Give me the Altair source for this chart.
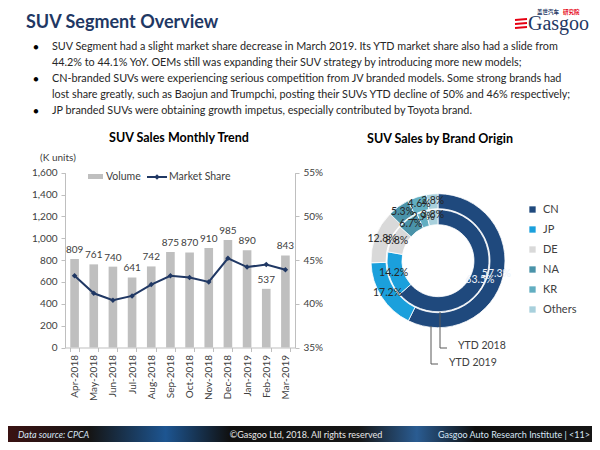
import altair as alt
import pandas as pd

FONT = "Lato"
W, H = 584, 434

# ---------------- data ----------------
months = ["Apr-2018", "May-2018", "Jun-2018", "Jul-2018", "Aug-2018", "Sep-2018",
          "Oct-2018", "Nov-2018", "Dec-2018", "Jan-2019", "Feb-2019", "Mar-2019"]
volume = [809, 761, 740, 641, 742, 875, 870, 910, 985, 890, 537, 843]
share = [43.2, 41.2, 40.4, 40.9, 42.2, 43.2, 43.0, 42.5, 45.2, 44.2, 44.5, 43.9]

brands = ["CN", "JP", "DE", "NA", "KR", "Others"]
ytd2019 = [57.3, 17.2, 12.8, 5.3, 4.6, 2.8]
ytd2018 = [63.5, 14.2, 8.8, 6.7, 2.9, 3.8]
brand_colors = ["#1f497d", "#1ba0dc", "#d9d9d9", "#4a93a9", "#62aec1", "#a8d0dc"]

vol_ticks = [0, 200, 400, 600, 800, 1000, 1200, 1400, 1600]
share_ticks = [35, 40, 45, 50, 55]

bullet_lines = [
    "SUV Segment had a slight market share decrease in March 2019. Its YTD market share also had a slide from",
    "44.2% to 44.1% YoY. OEMs still was expanding their SUV strategy by introducing more new models;",
    "CN-branded SUVs were experiencing serious competition from JV branded models. Some strong brands had",
    "lost share greatly, such as Baojun and Trumpchi, posting their SUVs YTD decline of 50% and 46% respectively;",
    "JP branded SUVs were obtaining growth impetus, especially contributed by Toyota brand.",
]

trend = pd.DataFrame({"month": months, "volume": volume, "share": share})
d19 = pd.DataFrame({"brand": brands, "idx": list(range(len(brands))), "pct": ytd2019,
                    "label": [f"{v:.1f}%" for v in ytd2019]})
d18 = pd.DataFrame({"brand": brands, "idx": list(range(len(brands))), "pct": ytd2018,
                    "label": [f"{v:.1f}%" for v in ytd2018]})

one = alt.Data(values=[{"a": 1}])


def txt(s, x, y, size=11, color="#262626", weight="normal", align="left",
        style="normal", font=FONT, baseline="middle"):
    return alt.Chart(one).mark_text(
        text=s, font=font, fontSize=size, color=color, fontWeight=weight,
        align=align, baseline=baseline, fontStyle=style
    ).encode(x=alt.value(x), y=alt.value(y))


def rule(x1, y1, x2, y2, color="#7f7f7f", width=1):
    return alt.Chart(one).mark_rule(color=color, strokeWidth=width).encode(
        x=alt.value(x1), y=alt.value(y1), x2=alt.value(x2), y2=alt.value(y2))


layers = []

# ---------------- header ----------------
layers.append(txt("SUV Segment Overview", 18, 20, size=18, color="#1f3864",
                  weight="bold", baseline="alphabetic"))
line_y = [39, 55, 71, 87, 103]
for s, y in zip(bullet_lines, line_y):
    layers.append(txt(s, 44, y, size=10.8, color="#262626"))
for y in [39, 71, 103]:
    layers.append(txt("●", 28, y, size=9, color="#000000", align="center"))

# logo
for y in [12, 16, 20]:
    layers.append(rule(507, y, 519, y - 1, color="#e60012", width=2))
layers.append(txt("Gasgoo", 520, 22, size=20, color="#1f3864",
                  font="Liberation Serif", baseline="alphabetic"))
layers.append(txt("盖世汽车", 529, 4, size=5.5, color="#1f3864",
                  font="Noto Sans CJK SC", weight="bold"))
layers.append(txt("研究院", 555, 4, size=5.5, color="#e60012",
                  font="Noto Sans CJK SC", weight="bold"))

# ---------------- bar + line chart ----------------
Y0, Y1 = 339.5, 164.7
X0, X1 = 57, 287

xenc = alt.X(
    "month:N",
    scale=alt.Scale(domain=months, range=[X0, X1], paddingInner=0.55, paddingOuter=0.275),
    axis=alt.Axis(orient="bottom", offset=-(H - Y0), labelAngle=-90, labelFont=FONT,
                  labelFontSize=10, labelColor="#404040", domainColor="#bfbfbf",
                  tickColor="#bfbfbf", tickBand="extent", tickSize=4, labelPadding=3,
                  title=None, grid=False),
)
vscale = alt.Scale(domain=[0, 1600], range=[Y0, Y1], nice=False)
sscale = alt.Scale(domain=[35, 55], range=[Y0, Y1], nice=False, zero=False)

bars = alt.Chart(trend).mark_bar(color="#bfbfbf").encode(
    x=xenc,
    y=alt.Y("volume:Q", scale=vscale,
            axis=alt.Axis(orient="left", offset=-X0, values=vol_ticks,
                          labelExpr="format(datum.value, ',.0f')",
                          labelFont=FONT, labelFontSize=10, labelColor="#404040",
                          domainColor="#bfbfbf", tickColor="#bfbfbf", tickSize=4,
                          labelPadding=4, grid=False, title=None)),
)
bar_labels = alt.Chart(trend).mark_text(
    baseline="bottom", dy=-4, font=FONT, fontSize=10, color="#404040"
).encode(x=xenc, y=alt.Y("volume:Q", scale=vscale, axis=None), text="volume:Q")

line = alt.Chart(trend).mark_line(color="#203864", strokeWidth=2).encode(
    x=xenc,
    y=alt.Y("share:Q", scale=sscale,
            axis=alt.Axis(orient="right", offset=-(W - X1), values=share_ticks,
                          labelExpr="datum.value + '%'", labelFont=FONT,
                          labelFontSize=10, labelColor="#404040",
                          domainColor="#bfbfbf", tickColor="#bfbfbf", tickSize=4,
                          labelPadding=4, grid=False, title=None)),
)
pts = alt.Chart(trend).mark_point(shape="diamond", filled=True, size=30,
                                  color="#203864", opacity=1).encode(
    x=xenc, y=alt.Y("share:Q", scale=sscale, axis=None))

layers += [bars, bar_labels, line, pts]

layers.append(txt("SUV Sales Monthly Trend", 171, 130, size=12.5, color="#000000",
                  weight="bold", align="center"))
layers.append(txt("(K units)", 50, 150, size=10, color="#404040", align="center"))

# manual legend
layers.append(alt.Chart(one).mark_rect(color="#bfbfbf").encode(
    x=alt.value(80), x2=alt.value(95), y=alt.value(166), y2=alt.value(171)))
layers.append(txt("Volume", 98, 169, size=10.5, color="#404040"))
layers.append(rule(139, 169, 159, 169, color="#203864", width=2))
layers.append(alt.Chart(one).mark_point(shape="diamond", filled=True, size=30,
                                        color="#203864", opacity=1).encode(
    x=alt.value(149), y=alt.value(169)))
layers.append(txt("Market Share", 161, 169, size=10.5, color="#404040"))

# ---------------- donut ----------------
CX, CY = 430, 252.7
cscale = alt.Scale(domain=brands, range=brand_colors)
leg = alt.Legend(orient="none", legendX=519, legendY=196, title=None,
                 symbolType="square", symbolSize=40, labelFont=FONT,
                 labelFontSize=11, labelColor="#404040", rowPadding=8,
                 symbolStrokeWidth=0, padding=0, labelOffset=5)
label_color = alt.condition("datum.brand == 'CN'", alt.value("#eef3fa"), alt.value("#262626"))

for df, r_out, r_in in [(d19, 67, 52), (d18, 51, 36)]:
    layers.append(alt.Chart(df).mark_arc(radius=r_out, radius2=r_in, stroke="white",
                                         strokeWidth=0.8).encode(
        theta=alt.Theta("pct:Q", stack="normalize"),
        order=alt.Order("idx:Q"),
        color=alt.Color("brand:N", scale=cscale, legend=leg),
        x=alt.value(CX), y=alt.value(CY)))
for df, r_lab in [(d19, 60), (d18, 46)]:
    layers.append(alt.Chart(df).mark_text(radius=r_lab, font=FONT, fontSize=10.5).encode(
        theta=alt.Theta("pct:Q", stack="normalize"),
        order=alt.Order("idx:Q"),
        text="label:N",
        color=label_color,
        x=alt.value(CX), y=alt.value(CY)))

layers.append(txt("SUV Sales by Brand Origin", 432, 131, size=12.5, color="#000000",
                  weight="bold", align="center"))

# leader lines
layers.append(rule(432, 304, 432, 340, color="#595959"))
layers.append(rule(432, 340, 439, 340, color="#595959"))
layers.append(txt("YTD 2018", 450, 338, size=10.5, color="#404040"))
layers.append(rule(423, 318, 423, 356, color="#595959"))
layers.append(rule(423, 356, 430, 356, color="#595959"))
layers.append(txt("YTD 2019", 441, 355, size=10.5, color="#404040"))

# ---------------- footer ----------------
grad = alt.Gradient(
    gradient="linear", x1=0, x2=1, y1=0, y2=0,
    stops=[alt.GradientStop(color="#3a1212", offset=0),
           alt.GradientStop(color="#151515", offset=0.14),
           alt.GradientStop(color="#1d5591", offset=0.27),
           alt.GradientStop(color="#101010", offset=0.38),
           alt.GradientStop(color="#161616", offset=0.6),
           alt.GradientStop(color="#2a5c92", offset=0.7),
           alt.GradientStop(color="#0f0f0f", offset=0.8),
           alt.GradientStop(color="#151515", offset=1)])
layers.append(alt.Chart(one).mark_rect(color=grad).encode(
    x=alt.value(0), x2=alt.value(W), y=alt.value(418), y2=alt.value(H)))
layers.append(txt("Data source: CPCA", 10, 426.5, size=9, color="#d6e6f5", style="italic"))
layers.append(txt("©Gasgoo Ltd, 2018.  All rights reserved", 298, 426.5, size=9,
                  color="#e8e8e8", align="center"))
layers.append(txt("Gasgoo Auto Research Institute  |  <11>", 582, 426.5, size=9,
                  color="#d6e6f5", align="right"))

chart = alt.layer(*layers).resolve_scale(y="independent").properties(
    width=W, height=H, autosize=alt.AutoSizeParams(type="none"), padding=0
).configure_view(stroke=None)

chart.save("out.html", embed_options={"renderer": "svg", "actions": False})
